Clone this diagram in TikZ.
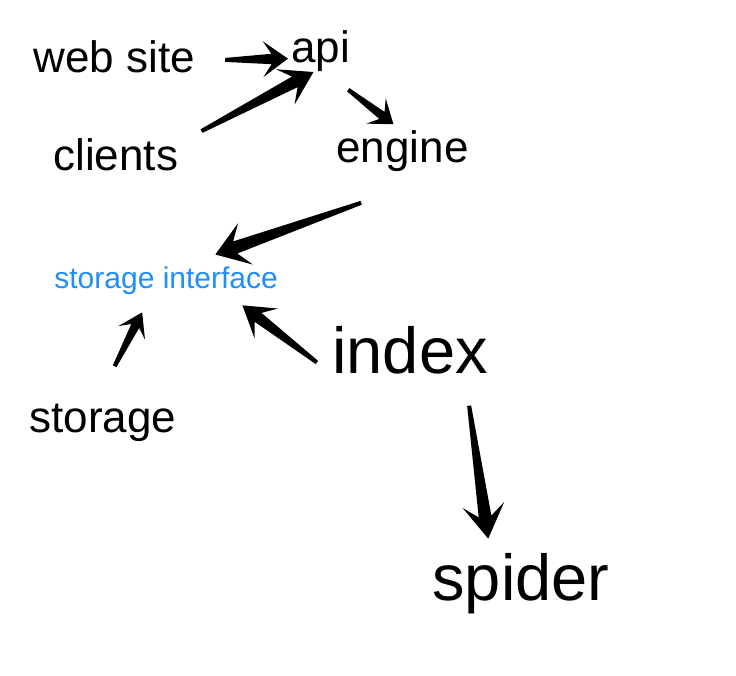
\documentclass[tikz,border=0pt]{standalone}
\usepackage{fontspec}
\setmainfont{Liberation Sans}
\usetikzlibrary{calc}
\definecolor{ifblue}{RGB}{31,142,250}

\begin{document}
\begin{tikzpicture}[
      x=0.5pt, y=-0.5pt,
      lbl/.style  ={anchor=base west, inner sep=0pt,
                    font=\fontsize{22}{26}\selectfont},
      big/.style  ={lbl, font=\fontsize{32.5}{39}\selectfont},
      iface/.style={lbl, text=ifblue, font=\fontsize{15}{18}\selectfont},
      hd len/.store in=\hdlen, hd wid/.store in=\hdwid,
      nk wid/.store in=\nkwid, tl wid/.store in=\tlwid,
      hd len=13pt, hd wid=9pt, nk wid=2.6pt, tl wid=1pt,
      keyarr/.style 2 args={fill=black, to path={
        let \p1=($(\tikztostart)!#1!(\tikztotarget)$),
            \p2=($(\tikztotarget)!#2!(\tikztostart)$),
            \p3=($(\p2)!\hdlen!(\p1)$),
            \p4=($(\p2)!0.66*\hdlen!(\p1)$)
        in ($(\p1)!\tlwid!90:(\p2)$) -- ($(\p4)!\nkwid!90:(\p2)$)
           -- ($(\p3)!\hdwid!90:(\p2)$) -- (\p2)
           -- ($(\p3)!\hdwid!-90:(\p2)$) -- ($(\p4)!\nkwid!-90:(\p2)$)
           -- ($(\p1)!\tlwid!-90:(\p2)$) -- cycle}}
    ]
    \useasboundingbox (0,0) rectangle (736,676);
    % --- labels ---
    \node[lbl] (web)     at (33,72)   {web site};
    \node[lbl] (api)     at (291,62)  {api};
    \node[lbl] (clients) at (53,170)  {clients};
    \node[lbl] (engine)  at (336,162) {engine};
    \node[iface] (si)    at (54,288)  {storage interface};
    \node[big] (index)   at (332,373) {index};
    \node[lbl] (storage) at (29,432)  {storage};
    \node[big] (spider)  at (432,600) {spider};
    % --- arrows ---
    \fill[keyarr={15pt}{1.5pt}, hd len=12.5pt, hd wid=9pt] (web.-3) to (api.195);
    \fill[keyarr={13pt}{0.5pt}, hd len=16pt, hd wid=10pt, nk wid=3pt]
      (clients.10) to (api.253);
    \fill[keyarr={15pt}{4.5pt}, hd len=11pt, hd wid=8pt, nk wid=2.2pt]
      (api.-80) to (engine.95);
    \fill[keyarr={46.8pt}{17pt}, hd len=16pt, hd wid=11pt, nk wid=3.2pt]
      (engine.-24) to (si.40);
    \fill[keyarr={20.7pt}{10pt}, hd len=11.5pt, hd wid=7.5pt, nk wid=2.2pt]
      (storage.110) to (si.224);
    \fill[keyarr={9.5pt}{8.8pt}, hd len=15pt, hd wid=9.5pt, nk wid=2.8pt]
      (index.south west) to (si.-13);
    \fill[keyarr={16pt}{7pt}, hd len=17pt, hd wid=10.5pt, nk wid=3.2pt]
      (index.-24) to (spider.135);
\end{tikzpicture}
\end{document}
